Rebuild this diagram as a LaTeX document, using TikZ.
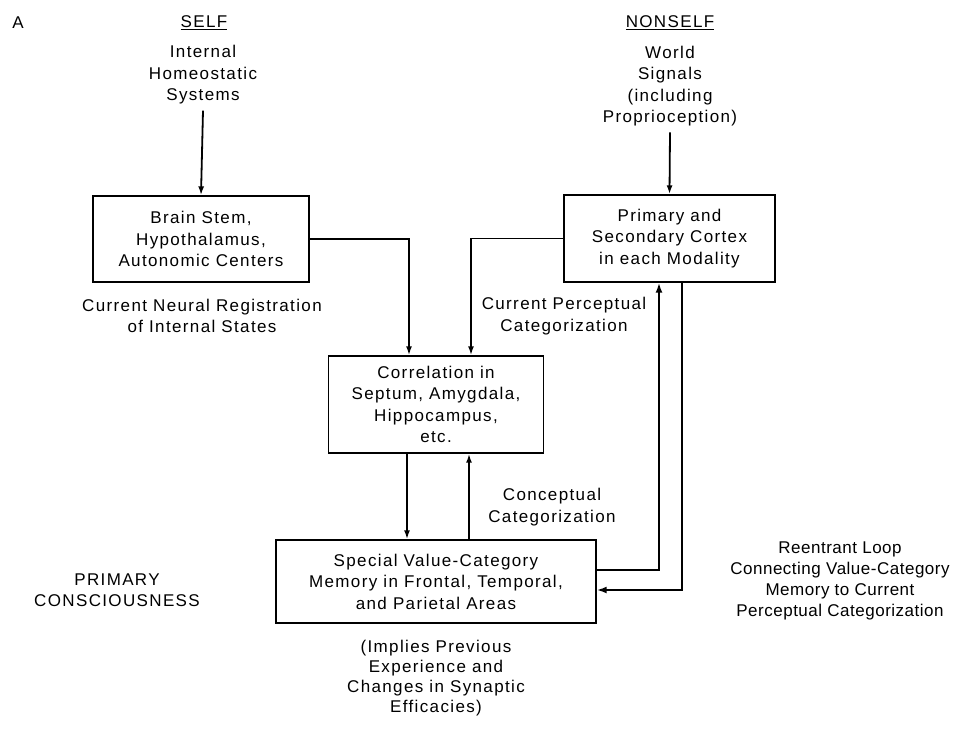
\documentclass[tikz,border=0pt]{standalone}
\usepackage{fontspec}
\setmainfont{Liberation Sans}[LetterSpace=8]
\usetikzlibrary{arrows.meta}
\begin{document}
\begin{tikzpicture}[x=1pt,y=-1pt,
  every node/.style={font=\fontsize{17}{21.5}\selectfont, align=center, inner sep=0pt},
  box/.style={draw, line width=1.4pt},
  arr/.style={line width=1.8pt, -{Latex[length=9pt,width=6pt]}},
  loopline/.style={line width=2.8pt, -{Latex[length=10pt,width=7pt]}}]
  \useasboundingbox (0,0) rectangle (958,729);

  % column headings and inputs
  \node (tagA) at (18,23) {A};
  \node (self) at (204,23) {\underline{SELF}};
  \node (nonself) at (670,23) {\underline{NONSELF}};
  \node[inner sep=6pt] (homeo) at (203,75) {Internal\\Homeostatic\\Systems};
  \node[inner sep=6pt] (world) at (670,86) {World\\Signals\\(including\\Proprioception)};

  % boxes
  \node[box, minimum width=216pt, minimum height=86pt] (brain) at (201,239)
    {Brain Stem,\\Hypothalamus,\\Autonomic Centers};
  \node[box, minimum width=211pt, minimum height=87pt] (cortex) at (669.5,238.5)
    {Primary and\\Secondary Cortex\\in each Modality};
  \node[box, minimum width=215pt, minimum height=97pt] (corr) at (436,404.5)
    {Correlation in\\Septum, Amygdala,\\Hippocampus,\\etc.};
  \node[box, minimum width=320pt, minimum height=83pt] (memory) at (436,581.5)
    {Special Value-Category\\Memory in Frontal, Temporal,\\and Parietal Areas};

  % free labels
  \node (neural) at (202,316) {Current Neural Registration\\of Internal States};
  \node (percept) at (564,316) {Current Perceptual\\Categorization};
  \node (concept) at (552,507) {Conceptual\\Categorization};
  \node[font=\fontsize{17}{21}\selectfont\addfontfeature{LetterSpace=3}] (reentrant) at (840,581)
    {Reentrant Loop\\Connecting Value-Category\\Memory to Current\\Perceptual Categorization};
  \node (primary) at (117,590) {PRIMARY\\CONSCIOUSNESS};
  \node[font=\fontsize{17}{20}\selectfont] (implies) at (436,678)
    {(Implies Previous\\Experience and\\Changes in Synaptic\\Efficacies)};

  % connectors
  \draw[arr] (homeo.south) -- (brain.north);
  \draw[arr] (world.south) -- (cortex.north);
  \draw[arr] (brain.east) -| ([xshift=-27pt]corr.north);
  \draw[arr] (cortex.west) -| ([xshift=35pt]corr.north);
  \draw[arr] ([xshift=-29pt]corr.south) -- ([xshift=-29pt]memory.north);
  \draw[arr] ([xshift=33pt]memory.north) -- ([xshift=33pt]corr.south);
  \draw[loopline] ([yshift=11.5pt]memory.east) -| ([xshift=-10.5pt]cortex.south);
  \draw[loopline] ([xshift=12.5pt]cortex.south) |- ([yshift=-8.5pt]memory.east);
\end{tikzpicture}
\end{document}
